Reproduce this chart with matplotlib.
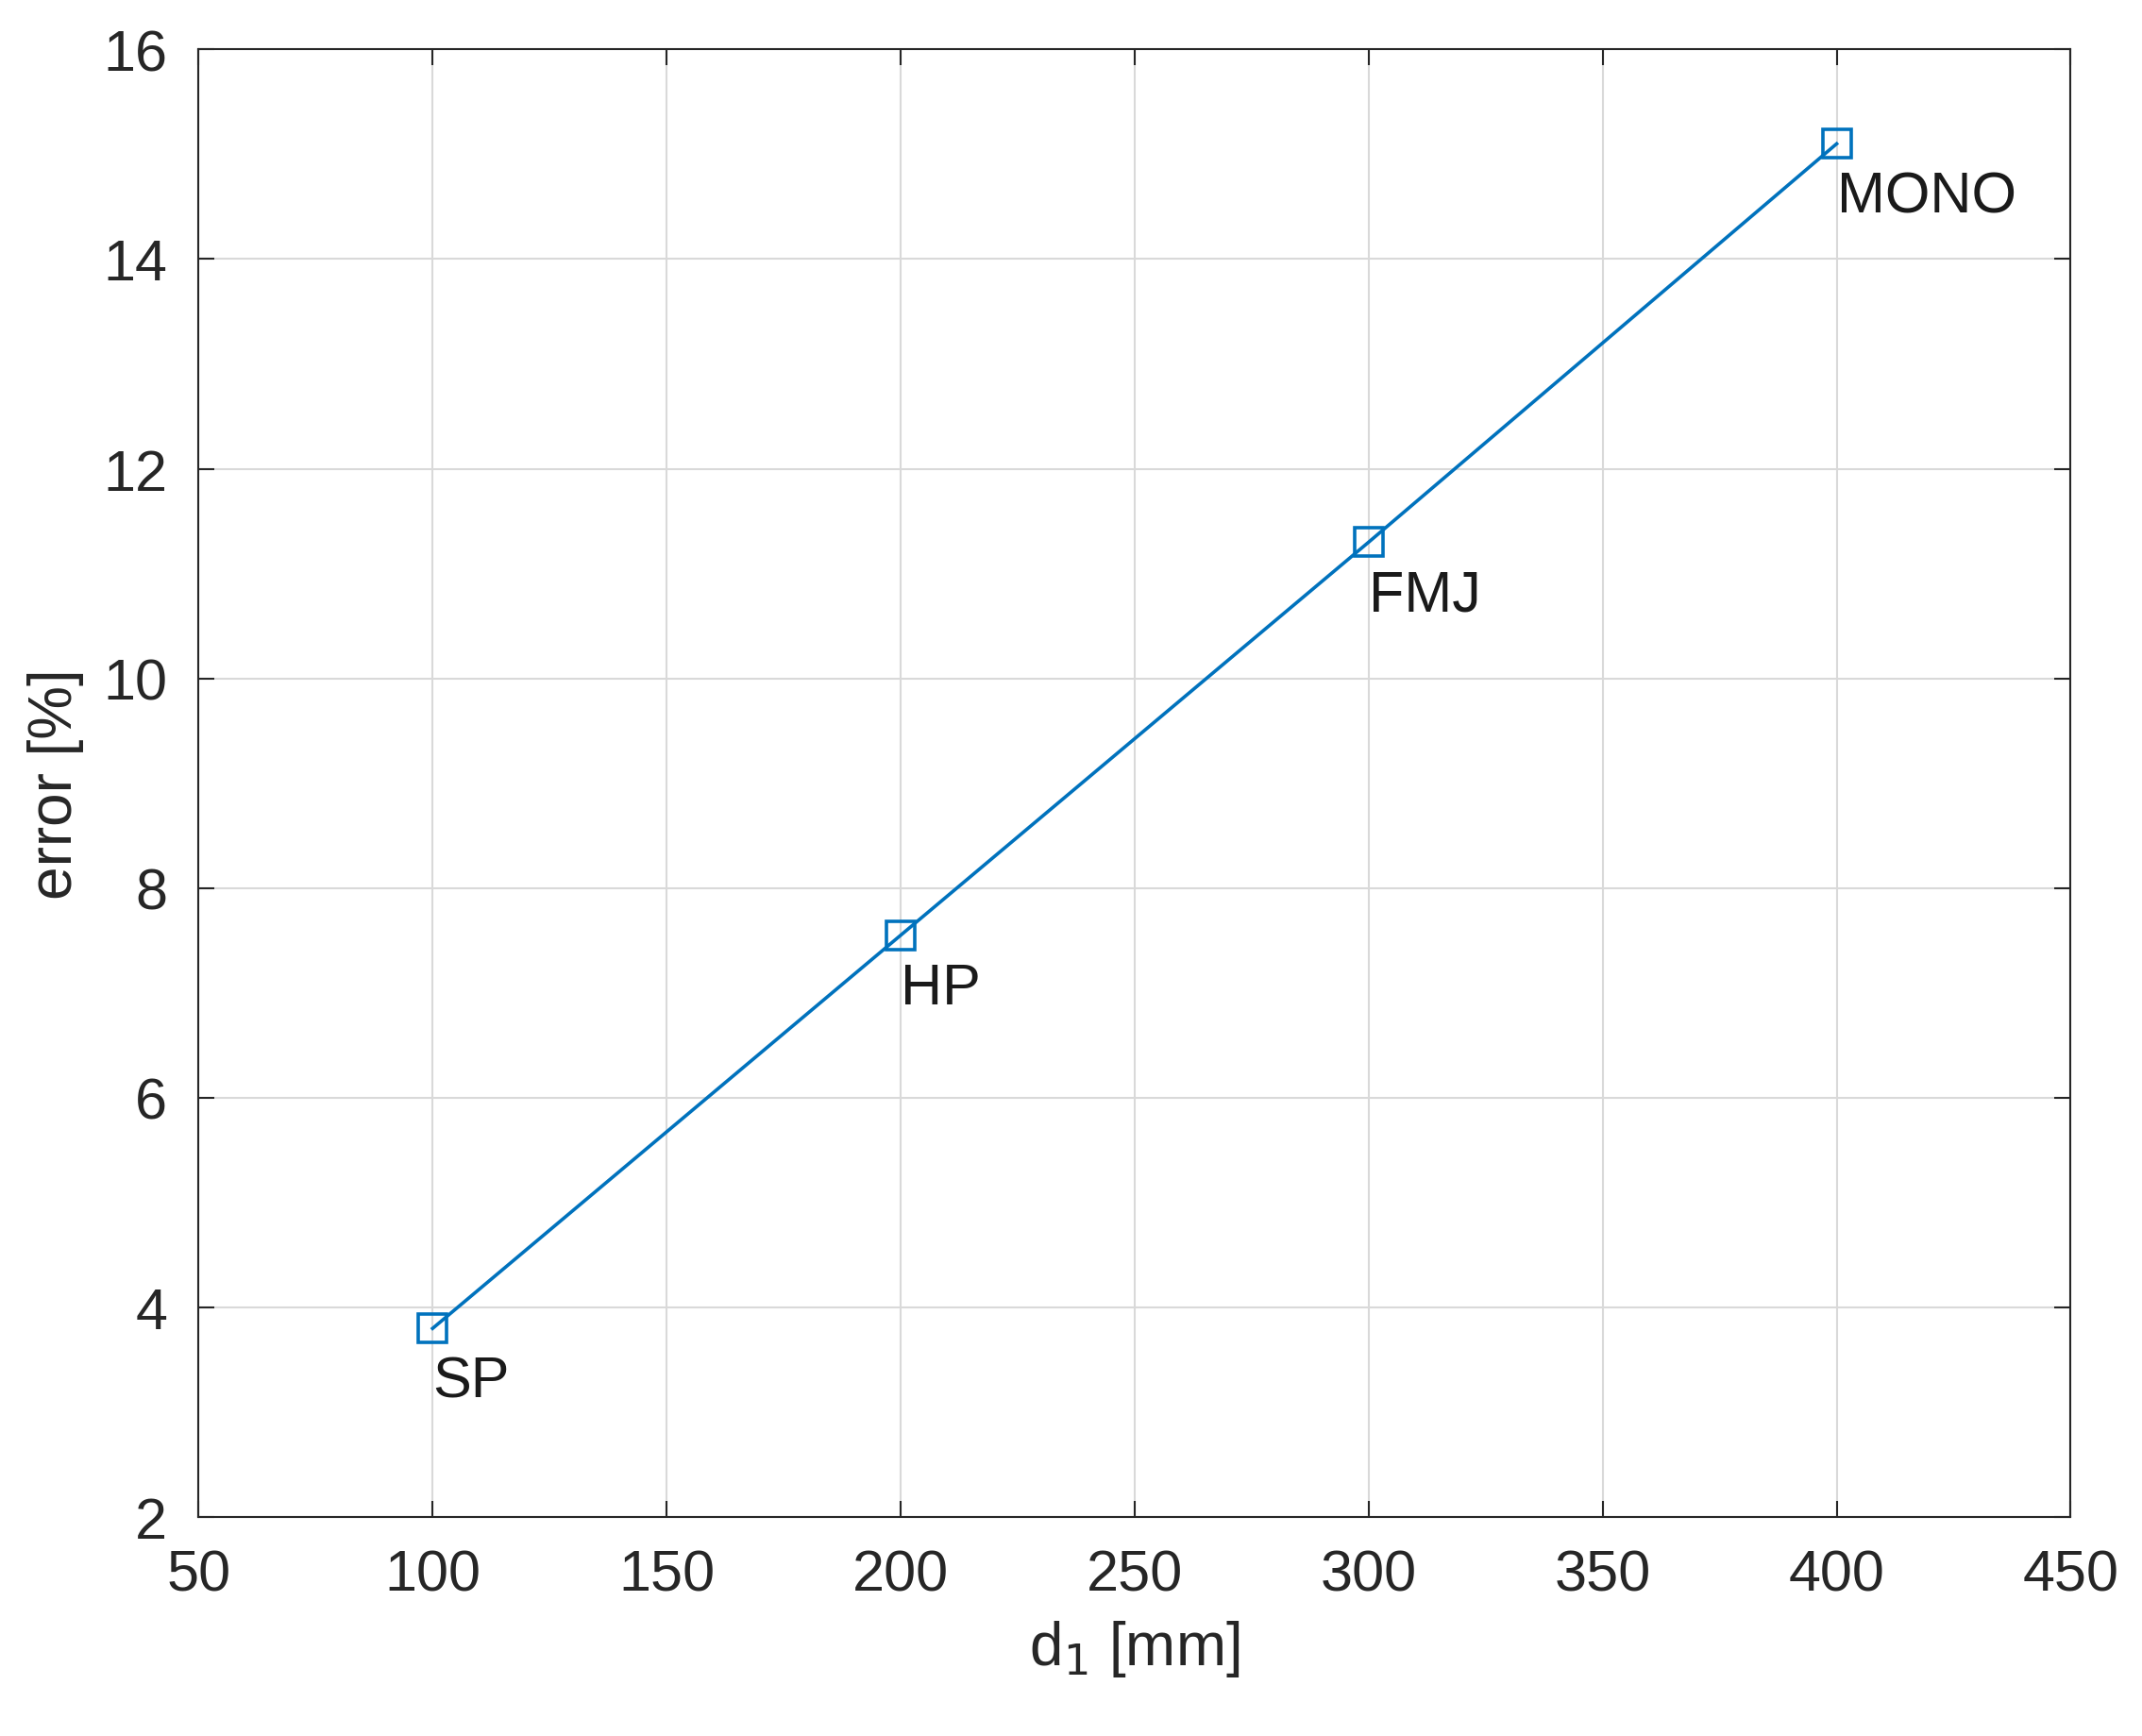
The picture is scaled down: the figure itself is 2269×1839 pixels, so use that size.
import matplotlib

matplotlib.use("Agg")

import matplotlib.pyplot as plt

plt.rcParams["font.family"] = ["Liberation Sans", "DejaVu Sans"]

# values
d1_mm = [100, 200, 300, 400]
error_pct = [3.8, 7.55, 11.3, 15.1]
point_labels = ["SP", "HP", "FMJ", "MONO"]

fig = plt.figure(figsize=(22.69, 18.40), dpi=100)
ax = fig.add_axes([0.0927, 0.126, 0.874, 0.845])

ax.plot(d1_mm, error_pct, color="#0072BD", linewidth=2.6, marker="s",
        markersize=22, markerfacecolor="none", markeredgewidth=2.6)
for x, y, lab in zip(d1_mm, error_pct, point_labels):
    ax.annotate(lab, (x, y), xytext=(0, -20), textcoords="offset points",
                ha="left", va="top", fontsize=44, color="#1a1a1a")

ax.set_xlim(50, 450)
ax.set_ylim(2, 16)
ax.set_xticks(range(50, 451, 50))
ax.set_yticks(range(2, 17, 2))
ax.grid(True, color="#d9d9d9", linewidth=1.5)
ax.set_axisbelow(True)
ax.tick_params(axis="both", labelsize=44, direction="in", length=12, width=1.5,
               top=True, right=True, pad=24, colors="#262626")
for s in ax.spines.values():
    s.set_linewidth(1.5)
    s.set_color("#262626")
ax.set_xlabel("d$_1$ [mm]", fontsize=46, color="#262626", labelpad=12)
ax.set_ylabel("error [%]", fontsize=46, color="#262626", labelpad=14)

fig.savefig("out.png", dpi=100)
